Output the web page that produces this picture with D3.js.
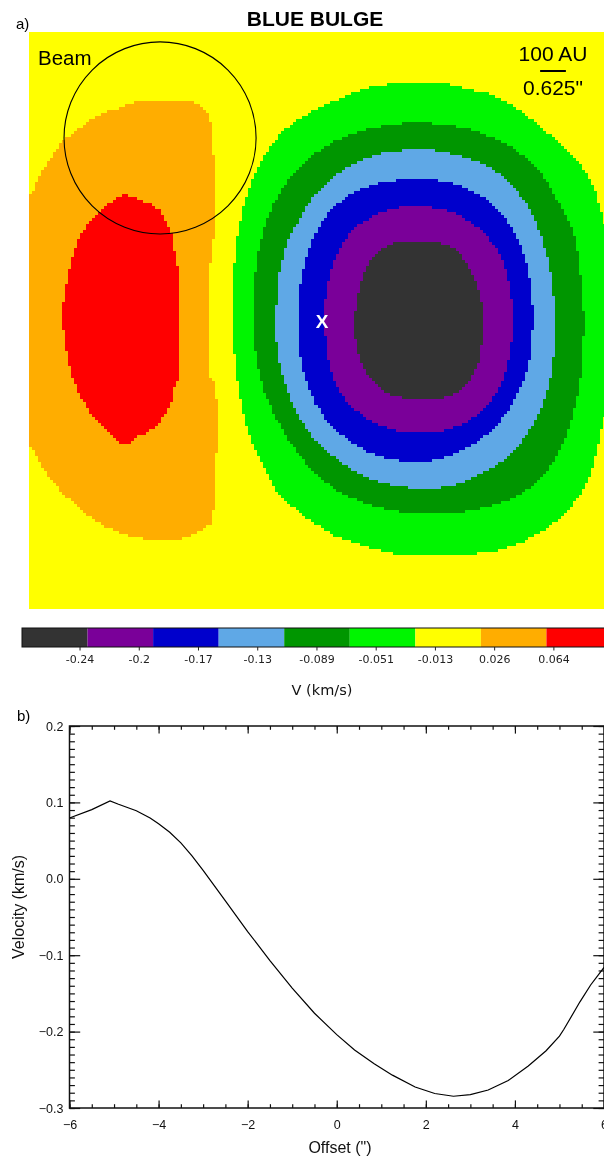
<!DOCTYPE html>
<html>
<head>
<meta charset="utf-8">
<script src="https://cdn.jsdelivr.net/npm/d3@7"></script>
<style>
  html, body { margin: 0; padding: 0; background: #fff; overflow: hidden; }
  #wrap { position: relative; width: 604px; height: 1158px; overflow: hidden; }
  #wrap canvas, #wrap svg { position: absolute; left: 0; top: 0; }
</style>
</head>
<body>
<div id="wrap"></div>
<script>
// ---- velocity levels of the map (km/s), one colour per band ----
const levelEdges = [-0.2805, -0.238, -0.1955, -0.153, -0.1105, -0.068, -0.0255, 0.017, 0.0595, 0.102];
const levelColors = ["#333333", "#7a0099", "#0000cc", "#5fa8e6", "#009600", "#00f500", "#ffff00", "#ffad00", "#ff0000"];
const backgroundLevel = 6;

// colour bar ticks
const cbTickValues = [-0.2432, -0.2048, -0.1664, -0.128, -0.0896, -0.0512, -0.0128, 0.0256, 0.064];
const cbTickLabels = ["-0.24", "-0.2", "-0.17", "-0.13", "-0.089", "-0.051", "-0.013", "0.026", "0.064"];

// ---- contour outlines of the velocity map, offsets in arcsec (x right, y up) ----
const regionRedshiftedOuter = [[-7.2,2.83],[-6.93,3.09],[-6.73,3.55],[-6.42,3.99],[-6.17,4.35],[-5.83,4.62],[-5.35,4.94],[-4.79,5.16],[-4.35,5.30],[-3.04,5.30],[-2.80,5.16],[-2.66,5.03],[-2.61,4.94],[-2.53,4.35],[-2.53,1.66],[-2.58,1.47],[-2.58,-1.40],[-2.49,-1.50],[-2.49,-4.29],[-2.58,-4.92],[-2.68,-4.99],[-3.17,-5.26],[-4.35,-5.26],[-4.79,-5.14],[-5.28,-4.92],[-5.76,-4.55],[-6.17,-4.19],[-6.49,-3.83],[-6.73,-3.46],[-6.90,-3.10],[-7.2,-2.83]];
const regionRedshiftedInner = [[-4.67,3.07],[-4.43,2.97],[-4.06,2.83],[-3.82,2.66],[-3.65,2.36],[-3.53,2.10],[-3.50,1.83],[-3.41,1.47],[-3.38,1.20],[-3.38,-1.40],[-3.46,-1.59],[-3.53,-1.93],[-3.65,-2.20],[-3.87,-2.49],[-4.14,-2.71],[-4.43,-2.83],[-4.62,-3.02],[-4.79,-2.98],[-5.03,-2.76],[-5.35,-2.44],[-5.69,-1.93],[-5.93,-1.40],[-6.08,-0.77],[-6.17,-0.14],[-6.17,0.40],[-6.08,0.93],[-5.96,1.47],[-5.81,1.93],[-5.59,2.29],[-5.33,2.56],[-5.11,2.78],[-4.86,2.95]];
const regionBlue1 = [[2.00,5.74],[3.05,5.74],[3.58,5.64],[4.24,5.47],[4.80,5.16],[5.35,4.74],[5.84,4.33],[6.25,3.94],[6.54,3.53],[6.74,3.12],[6.91,2.56],[7.10,1.71],[7.20,0.00],[7.15,-1.69],[6.91,-2.54],[6.74,-3.34],[6.50,-4.00],[6.18,-4.48],[5.77,-4.89],[5.28,-5.21],[4.63,-5.50],[3.83,-5.65],[2.93,-5.69],[2.05,-5.69],[1.33,-5.52],[0.67,-5.33],[0.01,-4.97],[-0.54,-4.55],[-0.96,-4.17],[-1.27,-3.58],[-1.59,-2.95],[-1.81,-2.13],[-1.95,-1.33],[-2.05,-0.04],[-2.00,1.42],[-1.88,2.32],[-1.68,3.12],[-1.44,3.70],[-1.10,4.26],[-0.71,4.69],[-0.13,5.06],[0.60,5.42],[1.33,5.67]];
const regionBlue2 = [[1.71,4.74],[3.10,4.74],[3.75,4.62],[4.38,4.38],[4.97,4.01],[5.45,3.53],[5.84,2.87],[6.18,2.24],[6.33,1.51],[6.45,0.30],[6.45,-0.52],[6.37,-1.50],[6.20,-2.30],[5.94,-3.02],[5.52,-3.68],[4.97,-4.17],[4.24,-4.48],[3.41,-4.65],[2.44,-4.67],[1.57,-4.55],[0.84,-4.31],[0.18,-3.92],[-0.37,-3.34],[-0.86,-2.61],[-1.27,-1.74],[-1.47,-0.91],[-1.56,-0.04],[-1.51,1.10],[-1.34,2.00],[-1.10,2.73],[-0.74,3.36],[-0.30,3.84],[0.26,4.26],[0.99,4.57]];
const regionBlue3 = [[1.96,4.11],[2.93,4.11],[3.41,4.01],[4.07,3.77],[4.63,3.36],[5.04,2.87],[5.35,2.24],[5.60,1.42],[5.72,0.62],[5.77,-0.18],[5.69,-1.16],[5.48,-1.98],[5.16,-2.61],[4.72,-3.19],[4.14,-3.63],[3.41,-3.95],[2.61,-4.07],[1.81,-4.00],[1.08,-3.75],[0.43,-3.34],[-0.13,-2.78],[-0.54,-2.13],[-0.83,-1.33],[-0.98,-0.52],[-0.98,0.45],[-0.91,1.17],[-0.71,1.90],[-0.37,2.56],[0.01,3.12],[0.50,3.58],[1.16,3.94]];
const regionBlue4 = [[2.05,3.41],[2.78,3.41],[3.41,3.29],[4.00,3.00],[4.48,2.56],[4.84,2.00],[5.09,1.27],[5.21,0.45],[5.21,-0.35],[5.09,-1.16],[4.84,-1.81],[4.48,-2.37],[4.00,-2.85],[3.41,-3.19],[2.78,-3.39],[1.96,-3.39],[1.23,-3.19],[0.67,-2.85],[0.18,-2.37],[-0.13,-1.81],[-0.35,-1.16],[-0.45,-0.35],[-0.45,0.45],[-0.35,1.17],[-0.13,1.90],[0.18,2.49],[0.67,2.97],[1.33,3.29]];
const regionBlue5 = [[1.96,2.73],[2.78,2.73],[3.41,2.56],[3.90,2.24],[4.31,1.76],[4.60,1.10],[4.72,0.30],[4.70,-0.52],[4.55,-1.25],[4.24,-1.88],[3.75,-2.37],[3.10,-2.66],[2.37,-2.71],[1.64,-2.59],[1.08,-2.30],[0.60,-1.81],[0.31,-1.16],[0.18,-0.35],[0.18,0.45],[0.31,1.17],[0.55,1.76],[0.91,2.24],[1.40,2.56]];
const regionBlueCore = [[2.13,1.90],[2.78,1.90],[3.27,1.76],[3.58,1.42],[3.83,0.93],[4.00,0.30],[4.00,-0.35],[3.90,-1.01],[3.66,-1.50],[3.27,-1.81],[2.78,-1.91],[2.13,-1.88],[1.64,-1.74],[1.23,-1.33],[0.99,-0.84],[0.89,-0.18],[0.94,0.45],[1.08,1.03],[1.33,1.51],[1.71,1.83]];

// painting order (outer first) with the level each region belongs to
const regionLevels = [7, 8, 5, 4, 3, 2, 1, 0];
const regionOutlines = [regionRedshiftedOuter, regionRedshiftedInner, regionBlue1, regionBlue2, regionBlue3, regionBlue4, regionBlue5, regionBlueCore];

// beam (arcsec) and source position
const beamCenter = [-3.82, 4.43];
const beamRadius = 2.33;
const sourcePos = [0.11, 0.0];
const scaleBarArcsec = 0.625;

// ---- position-velocity cut ----
const offsetArcsec = [-6, -5.5, -5.09, -4.9, -4.5, -4.19, -4.0, -3.75, -3.5, -3.25, -3.0, -2.5, -2.0, -1.5, -1.0, -0.5, 0.0, 0.4, 0.84, 1.25, 1.76, 2.2, 2.62, 3.0, 3.4, 3.85, 4.3, 4.7, 5.0, 5.1, 5.46, 5.7, 6.0];
const velocityKms = [0.0795, 0.0905, 0.102, 0.0975, 0.089, 0.0795, 0.072, 0.061, 0.047, 0.030, 0.011, -0.029, -0.069, -0.107, -0.143, -0.176, -0.204, -0.224, -0.242, -0.257, -0.2725, -0.281, -0.2846, -0.2825, -0.2765, -0.264, -0.245, -0.225, -0.206, -0.197, -0.161, -0.139, -0.116];
const offsetTicks = [-6, -4, -2, 0, 2, 4, 6];
const offsetTickLabels = ["\u22126", "\u22124", "\u22122", "0", "2", "4", "6"];
const velocityTicks = [0.2, 0.1, 0.0, -0.1, -0.2, -0.3];
const velocityTickLabels = ["0.2", "0.1", "0.0", "\u22120.1", "\u22120.2", "\u22120.3"];

// =====================================================================
const W = 604, H = 1158;
const SANS = "'Liberation Sans', Arial, Helvetica, sans-serif";
const DEJAVU = "'DejaVu Sans', sans-serif";
const wrap = d3.select("#wrap");
const canvas = wrap.append("canvas").attr("width", W).attr("height", H).node();
const svg = wrap.append("svg").attr("width", W).attr("height", H);

// ---- panel a: velocity map ----
const xMap = d3.scaleLinear().domain([-7, 7]).range([29, 606]);
const yMap = d3.scaleLinear().domain([7, -7]).range([32, 609]);

// rasterise the contour regions onto a coarse grid, one level per cell
const N = 192;
const gx = d3.scaleLinear().domain([-7, 7]).range([0, N]);
const gy = d3.scaleLinear().domain([7, -7]).range([0, N]);
const grid = document.createElement("canvas");
grid.width = N; grid.height = N;
const gctx = grid.getContext("2d");
const cellLevel = new Uint8Array(N * N).fill(backgroundLevel);
const outline = d3.line().x(d => gx(d[0])).y(d => gy(d[1]))
  .curve(d3.curveCatmullRomClosed.alpha(0.5)).context(gctx);
regionOutlines.forEach((pts, k) => {
  gctx.clearRect(0, 0, N, N);
  gctx.beginPath();
  outline(pts);
  gctx.fillStyle = "#000";
  gctx.fill();
  const a = gctx.getImageData(0, 0, N, N).data;
  for (let i = 0; i < N * N; i++) if (a[i * 4 + 3] >= 128) cellLevel[i] = regionLevels[k];
});
const img = gctx.createImageData(N, N);
const rgbLevels = levelColors.map(c => d3.rgb(c));
cellLevel.forEach((l, i) => {
  const c = rgbLevels[l];
  img.data[i * 4] = c.r; img.data[i * 4 + 1] = c.g; img.data[i * 4 + 2] = c.b; img.data[i * 4 + 3] = 255;
});
gctx.putImageData(img, 0, 0);
const ctx = canvas.getContext("2d");
ctx.imageSmoothingEnabled = false;
ctx.drawImage(grid, xMap(-7), yMap(7), xMap(7) - xMap(-7), yMap(-7) - yMap(7));

// titles and annotations
svg.append("text").attr("x", 16).attr("y", 28.5).attr("font-family", SANS).attr("font-size", 15).text("a)");
svg.append("text").attr("x", 315).attr("y", 26).attr("text-anchor", "middle")
  .attr("font-family", SANS).attr("font-weight", "bold").attr("font-size", 21).text("BLUE BULGE");
svg.append("text").attr("x", 38).attr("y", 65).attr("font-family", SANS).attr("font-size", 20.5).text("Beam");

svg.append("circle")
  .attr("cx", xMap(beamCenter[0])).attr("cy", yMap(beamCenter[1]))
  .attr("r", xMap(beamRadius) - xMap(0))
  .attr("fill", "none").attr("stroke", "#000").attr("stroke-width", 1.1);

svg.append("text").attr("x", xMap(sourcePos[0])).attr("y", yMap(sourcePos[1]) + 7.5)
  .attr("text-anchor", "middle").attr("font-family", SANS).attr("font-weight", "bold")
  .attr("font-size", 19).attr("fill", "#fff").text("X");

// scale bar
const sbCx = 553, sbLen = xMap(scaleBarArcsec) - xMap(0);
svg.append("text").attr("x", sbCx).attr("y", 61).attr("text-anchor", "middle")
  .attr("font-family", SANS).attr("font-size", 21).text("100 AU");
svg.append("line").attr("x1", sbCx - sbLen / 2).attr("x2", sbCx + sbLen / 2)
  .attr("y1", 71).attr("y2", 71).attr("stroke", "#000").attr("stroke-width", 2);
svg.append("text").attr("x", sbCx).attr("y", 95).attr("text-anchor", "middle")
  .attr("font-family", SANS).attr("font-size", 21).text("0.625\"");

// ---- colour bar ----
const cbX = d3.scaleLinear().domain([levelEdges[0], levelEdges[levelEdges.length - 1]]).range([22, 612]);
const cbTop = 628, cbH = 19;
const cb = svg.append("g");
cb.selectAll("rect.band").data(levelColors).join("rect").attr("class", "band")
  .attr("x", (d, i) => cbX(levelEdges[i])).attr("width", (d, i) => cbX(levelEdges[i + 1]) - cbX(levelEdges[i]))
  .attr("y", cbTop).attr("height", cbH).attr("fill", d => d);
cb.append("rect").attr("x", cbX(levelEdges[0])).attr("y", cbTop)
  .attr("width", cbX(levelEdges[levelEdges.length - 1]) - cbX(levelEdges[0])).attr("height", cbH)
  .attr("fill", "none").attr("stroke", "#111").attr("stroke-width", 1);
const cbAxis = d3.axisBottom(cbX).tickValues(cbTickValues).tickSize(3.5).tickPadding(5)
  .tickFormat((d, i) => cbTickLabels[i]);
const cbg = svg.append("g").attr("transform", `translate(0,${cbTop + cbH})`).call(cbAxis);
cbg.select(".domain").remove();
cbg.selectAll("line").attr("stroke", "#222");
cbg.selectAll("text").attr("font-family", DEJAVU).attr("font-size", 11).attr("fill", "#222");
svg.append("text").attr("x", 322).attr("y", 695).attr("text-anchor", "middle")
  .attr("font-family", DEJAVU).attr("font-size", 14.5).attr("fill", "#111").text("V (km/s)");

// ---- panel b: position-velocity cut ----
const xOff = d3.scaleLinear().domain([-6, 6]).range([69.5, 604]);
const yVel = d3.scaleLinear().domain([-0.3, 0.2]).range([1108, 726]);
const pTop = yVel(0.2), pBot = yVel(-0.3), pLeft = xOff(-6), pRight = xOff(6);

function styleAxis(g) {
  g.select(".domain").remove();
  g.selectAll("line").attr("stroke", "#111").attr("stroke-width", 1.2);
  g.selectAll("text").attr("font-family", SANS).attr("font-size", 12.5).attr("fill", "#111");
  return g;
}
const xMinor = d3.range(-6, 6.001, 0.5);
const yMinor = d3.range(-0.3, 0.2001, 0.01);
const none = () => "";

styleAxis(svg.append("g").attr("transform", `translate(0,${pBot})`)
  .call(d3.axisBottom(xOff).tickValues(offsetTicks).tickSize(-7.6).tickPadding(12)
    .tickFormat((d, i) => offsetTickLabels[i])));
styleAxis(svg.append("g").attr("transform", `translate(0,${pBot})`)
  .call(d3.axisBottom(xOff).tickValues(xMinor).tickSize(-3.8).tickFormat(none)));
styleAxis(svg.append("g").attr("transform", `translate(0,${pTop})`)
  .call(d3.axisTop(xOff).tickValues(offsetTicks).tickSize(-7.6).tickFormat(none)));
styleAxis(svg.append("g").attr("transform", `translate(0,${pTop})`)
  .call(d3.axisTop(xOff).tickValues(xMinor).tickSize(-3.8).tickFormat(none)));
styleAxis(svg.append("g").attr("transform", `translate(${pLeft},0)`)
  .call(d3.axisLeft(yVel).tickValues(velocityTicks).tickSize(-10.7).tickPadding(6)
    .tickFormat((d, i) => velocityTickLabels[i])));
styleAxis(svg.append("g").attr("transform", `translate(${pLeft},0)`)
  .call(d3.axisLeft(yVel).tickValues(yMinor).tickSize(-5.4).tickFormat(none)));
styleAxis(svg.append("g").attr("transform", `translate(${pRight},0)`)
  .call(d3.axisRight(yVel).tickValues(velocityTicks).tickSize(-10.7).tickFormat(none)));
styleAxis(svg.append("g").attr("transform", `translate(${pRight},0)`)
  .call(d3.axisRight(yVel).tickValues(yMinor).tickSize(-5.4).tickFormat(none)));

svg.append("rect").attr("x", pLeft).attr("y", pTop).attr("width", pRight - pLeft).attr("height", pBot - pTop)
  .attr("fill", "none").attr("stroke", "#111").attr("stroke-width", 1.5);

svg.append("defs").append("clipPath").attr("id", "plotClip")
  .append("rect").attr("x", pLeft).attr("y", pTop).attr("width", pRight - pLeft).attr("height", pBot - pTop);
const pv = offsetArcsec.map((x, i) => [x, velocityKms[i]]);
svg.append("path").datum(pv).attr("clip-path", "url(#plotClip)")
  .attr("d", d3.line().x(d => xOff(d[0])).y(d => yVel(d[1])).curve(d3.curveLinear))
  .attr("fill", "none").attr("stroke", "#000").attr("stroke-width", 1.2);

svg.append("text").attr("x", 17).attr("y", 720.5).attr("font-family", SANS).attr("font-size", 15).text("b)");
svg.append("text").attr("x", 340).attr("y", 1153).attr("text-anchor", "middle")
  .attr("font-family", SANS).attr("font-size", 16).attr("fill", "#111").text("Offset (\")");
svg.append("text").attr("transform", "translate(23.5,907) rotate(-90)").attr("text-anchor", "middle")
  .attr("font-family", SANS).attr("font-size", 16).attr("fill", "#111").text("Velocity (km/s)");
</script>
</body>
</html>
